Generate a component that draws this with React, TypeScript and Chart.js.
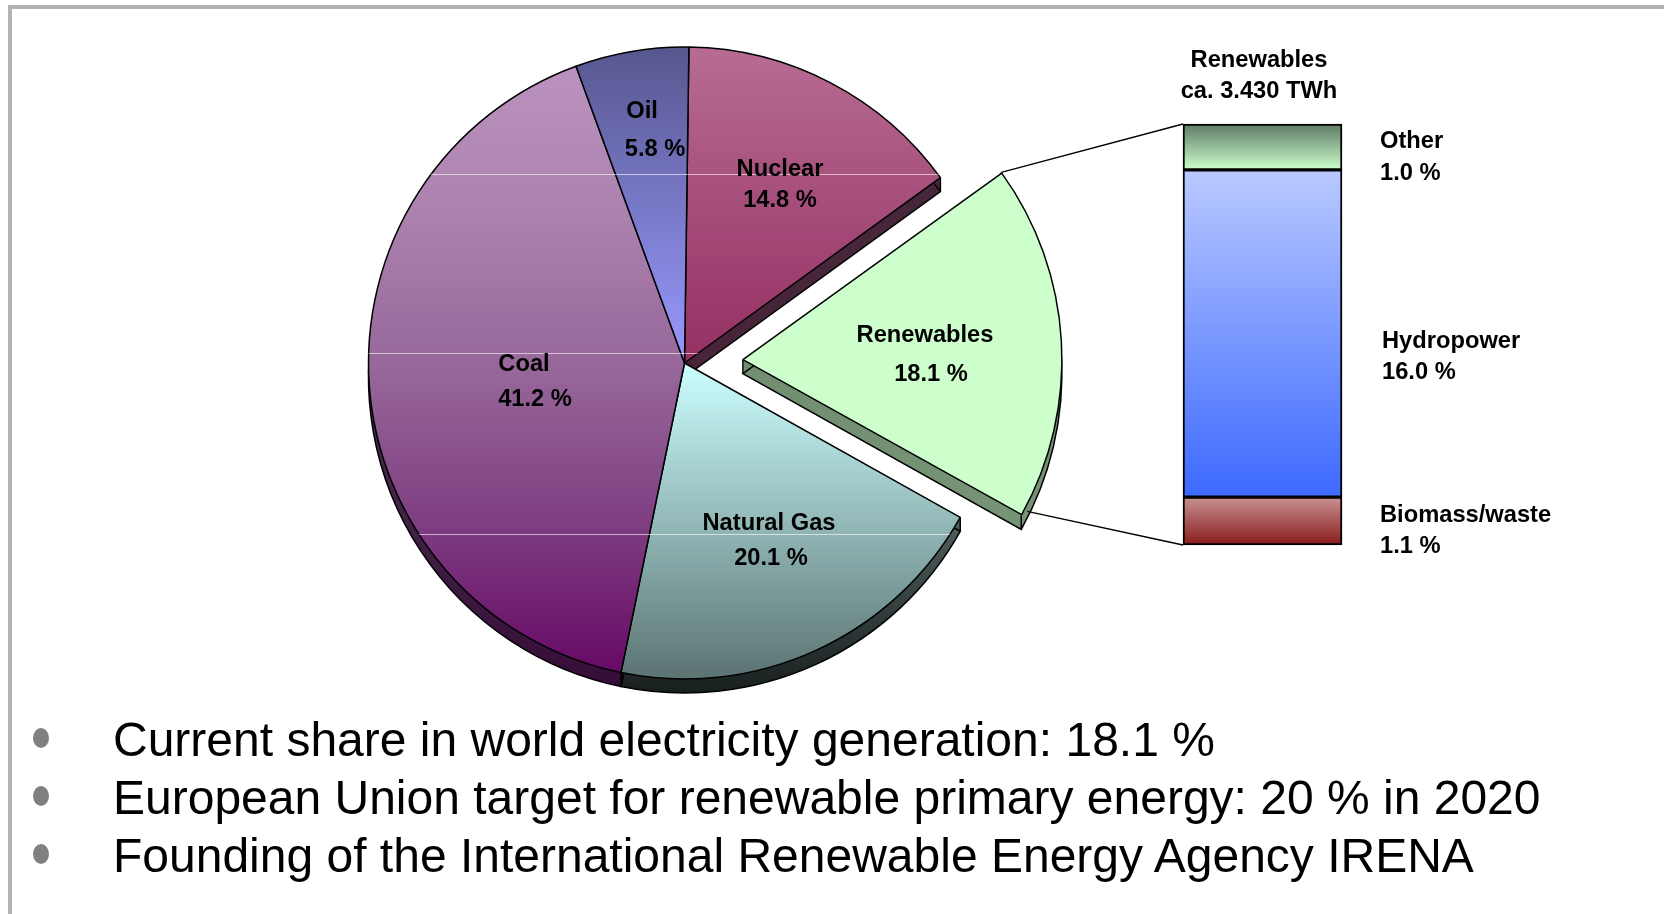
import React, { useEffect, useRef } from "react";
import { Chart, registerables } from "chart.js";

Chart.register(...registerables);

const FONT = '"Liberation Sans", Arial, sans-serif';

// Pie, clockwise from the top
const sources = ["Nuclear", "Renewables", "Natural Gas", "Coal", "Oil"];
const shares = [14.8, 18.1, 20.1, 41.2, 5.8];

// Stacked column, bottom to top. Heights are as drawn in the picture (not to scale with the shares).
const renewableKinds = ["Biomass/waste", "Hydropower", "Other"];
const renewableShares = [1.1, 16.0, 1.0];
const drawnHeights = [2.34, 16.0, 2.24];

const bullets = [
  "Current share in world electricity generation: 18.1 %",
  "European Union target for renewable primary energy: 20 % in 2020",
  "Founding of the International Renewable Energy Agency IRENA",
];

const columnTitle = ["Renewables", "ca. 3.430 TWh"];

const CX = 684.5;
const CY = 363;
const R = 316;
const DEPTH = 14;
const TILT_LINES = [174, 353, 534];

const topStops: Record<string, [number, number, string[]]> = {
  Nuclear: [-1, 0, ["#b76c93", "#952f62"]],
  Renewables: [-1, 1, ["#ccffcc", "#ccffcc"]],
  "Natural Gas": [0, 0.98, ["#ccffff", "#5d7675"]],
  Coal: [-0.95, 0.98, ["#bc92bf", "#ab81ae", "#97679a", "#7f3f82", "#660966"]],
  Oil: [-1, 0, ["#57578f", "#9999ff"]],
};
const sideStops: Record<string, [string, string]> = {
  Nuclear: ["#45293a", "#4a1f37"],
  Renewables: ["#668266", "#7c9a7c"],
  "Natural Gas": ["#7d9997", "#191f1f"],
  Coal: ["#4a3550", "#360c38"],
  Oil: ["#3c3c60", "#50508a"],
};
const columnStops: [string, string][] = [
  ["#c99292", "#891b1b"],
  ["#b9c9ff", "#3d69ff"],
  ["#5f7a65", "#ccffcc"],
];

const labelSpots: Record<string, number[]> = {
  Nuclear: [780, 169, 780, 200],
  Renewables: [925, 335, 931, 374],
  "Natural Gas": [769, 523, 771, 558],
  Coal: [524, 364, 535, 399],
  Oil: [642, 111, 655, 149],
};
const sideSpots = [
  [1380, 515, 1380, 546],
  [1382, 341, 1382, 372],
  [1380, 141, 1380, 173],
];

function sector(ctx: CanvasRenderingContext2D, arc: any, dy: number) {
  const off = (arc.options.offset || 0) / 4;
  const circ = arc.circumference;
  const mid = (arc.startAngle + arc.endAngle) / 2;
  const fix = 1 - Math.sin(Math.min(Math.PI, circ));
  const r = arc.outerRadius + off * fix;
  const x = arc.x + Math.cos(mid) * off;
  const y = arc.y + Math.sin(mid) * off + dy;
  ctx.beginPath();
  ctx.moveTo(x, y);
  ctx.arc(x, y, r, arc.startAngle, arc.endAngle);
  ctx.closePath();
  return { x, y, r };
}

export default function App() {
  const pieRef = useRef<HTMLCanvasElement>(null);
  const barRef = useRef<HTMLCanvasElement>(null);

  useEffect(() => {
    const barChart = new Chart(barRef.current!, {
      type: "bar",
      data: {
        labels: ["Renewables"],
        datasets: renewableKinds.map((k, i) => ({
          label: k,
          data: [drawnHeights[i]],
          stack: "s",
          barPercentage: 1,
          categoryPercentage: 1,
          clip: false,
          borderColor: "#000",
          borderWidth: 2,
          borderSkipped: false,
          backgroundColor: (c: any) => {
            const y = c.chart.scales.y;
            if (!y || !c.chart.chartArea) return columnStops[i][0];
            const base = drawnHeights.slice(0, i).reduce((a, b) => a + b, 0);
            const y0 = y.getPixelForValue(base + drawnHeights[i]);
            const y1 = y.getPixelForValue(base);
            if (!Number.isFinite(y0) || !Number.isFinite(y1)) return columnStops[i][0];
            const g = c.chart.ctx.createLinearGradient(0, y0, 0, y1);
            g.addColorStop(0, columnStops[i][0]);
            g.addColorStop(1, columnStops[i][1]);
            return g;
          },
        })) as any,
      },
      options: {
        responsive: false,
        animation: false,
        events: [],
        layout: { padding: 4 },
        plugins: { legend: { display: false }, tooltip: { enabled: false } },
        scales: {
          x: { display: false, stacked: true },
          y: {
            display: false,
            stacked: true,
            min: 0,
            max: drawnHeights.reduce((a, b) => a + b, 0),
          },
        },
      },
    });

    const depthPlugin = {
      id: "depth",
      beforeDatasetsDraw(chart: any) {
        const ctx = chart.ctx;
        const arcs = chart.getDatasetMeta(0).data;
        // the exploded slice keeps a slightly larger radius than the rest, as in the picture
        const ex = arcs[sources.indexOf("Renewables")];
        const exOff = (ex.options.offset || 0) / 4;
        ex.outerRadius = R + 3 - exOff * (1 - Math.sin(Math.min(Math.PI, ex.circumference)));

        arcs.forEach((arc: any, i: number) => {
          const [a, b] = sideStops[sources[i]];
          const g = ctx.createLinearGradient(0, arc.y - R, 0, arc.y + R + DEPTH);
          const isGas = sources[i] === "Natural Gas";
          const isCoal = sources[i] === "Coal";
          g.addColorStop(0, a);
          g.addColorStop(isGas || isCoal ? 0.5 : 0, a);
          g.addColorStop(1, b);
          ctx.save();
          ctx.fillStyle = g;
          for (let dy = DEPTH; dy >= 1; dy--) {
            sector(ctx, arc, dy);
            ctx.fill();
          }
          ctx.strokeStyle = "#000";
          ctx.lineWidth = 1.5;
          const p = sector(ctx, arc, DEPTH);
          ctx.stroke();
          // vertical edges at the corners of the slice
          [arc.startAngle, arc.endAngle].forEach((t: number) => {
            const ex2 = p.x + Math.cos(t) * p.r;
            const ey = p.y + Math.sin(t) * p.r;
            ctx.beginPath();
            ctx.moveTo(ex2, ey - DEPTH);
            ctx.lineTo(ex2, ey);
            ctx.stroke();
          });
          ctx.beginPath();
          ctx.moveTo(p.x, p.y - DEPTH);
          ctx.lineTo(p.x, p.y);
          ctx.stroke();
          ctx.restore();
        });
      },
      afterDatasetsDraw(chart: any) {
        const ctx = chart.ctx;
        const arcs = chart.getDatasetMeta(0).data;
        // thin white seams
        arcs.forEach((arc: any, i: number) => {
          if (sources[i] === "Renewables") return;
          ctx.save();
          sector(ctx, arc, 0);
          ctx.clip();
          ctx.strokeStyle = "rgba(255,255,255,0.6)";
          ctx.lineWidth = 1;
          TILT_LINES.forEach((ly) => {
            ctx.beginPath();
            ctx.moveTo(0, ly + 0.5);
            ctx.lineTo(1664, ly + 0.5);
            ctx.stroke();
          });
          ctx.restore();
        });

        // connectors to the column
        const ri = sources.indexOf("Renewables");
        const arc = arcs[ri];
        const p = sector(ctx, arc, 0);
        const bar = barChart.getDatasetMeta(0).data[0] as any;
        const yS: any = barChart.scales.y;
        const barRect = barRef.current!.getBoundingClientRect();
        const left = barRect.left + bar.x - bar.width / 2;
        const top = barRect.top + yS.getPixelForValue(yS.max);
        const bottom = barRect.top + yS.getPixelForValue(0);
        ctx.save();
        ctx.strokeStyle = "#000";
        ctx.lineWidth = 1.3;
        ctx.beginPath();
        ctx.moveTo(p.x + Math.cos(arc.startAngle) * p.r, p.y + Math.sin(arc.startAngle) * p.r);
        ctx.lineTo(left, top);
        ctx.moveTo(p.x + Math.cos(arc.endAngle) * p.r + 6, p.y + Math.sin(arc.endAngle) * p.r - 4);
        ctx.lineTo(left, bottom);
        ctx.stroke();

        // labels
        ctx.fillStyle = "#000";
        ctx.font = `bold 23.7px ${FONT}`;
        ctx.textAlign = "center";
        ctx.textBaseline = "middle";
        sources.forEach((s, i) => {
          const q = labelSpots[s];
          ctx.fillText(s, q[0], q[1]);
          ctx.fillText(`${shares[i].toFixed(1)} %`, q[2], q[3]);
        });
        ctx.fillText(columnTitle[0], 1259, 60);
        ctx.fillText(columnTitle[1], 1259, 91);
        ctx.textAlign = "left";
        renewableKinds.forEach((k, i) => {
          const q = sideSpots[i];
          ctx.fillText(k, q[0], q[1]);
          ctx.fillText(`${renewableShares[i].toFixed(1)} %`, q[2], q[3]);
        });
        ctx.restore();
      },
    };

    const pieChart = new Chart(pieRef.current!, {
      type: "pie",
      data: {
        labels: sources,
        datasets: [
          {
            data: shares,
            borderColor: "#000",
            borderWidth: 1.5,
            offset: sources.map((s) => (s === "Renewables" ? 234 : 0)),
            backgroundColor: (c: any) => {
              const [f0, f1, stops] = topStops[sources[c.dataIndex ?? 0]];
              const g = pieRef.current!.getContext("2d")!.createLinearGradient(0, CY + f0 * R, 0, CY + f1 * R);
              stops.forEach((col, k) => g.addColorStop(k / (stops.length - 1), col));
              return g;
            },
          } as any,
        ],
      },
      options: {
        responsive: false,
        animation: false,
        events: [],
        rotation: 0.8,
        radius: R,
        layout: {
          padding: { left: 0, right: 1664 - 2 * CX, top: 0, bottom: 914 - 2 * CY },
        },
        plugins: { legend: { display: false }, tooltip: { enabled: false } },
      } as any,
      plugins: [depthPlugin],
    });

    return () => {
      pieChart.destroy();
      barChart.destroy();
    };
  }, []);

  return (
    <div
      style={{
        position: "fixed",
        inset: 0,
        width: 1664,
        height: 914,
        background: "#fff",
        overflow: "hidden",
        fontFamily: FONT,
      }}
    >
      <div
        style={{
          position: "absolute",
          left: 8,
          top: 5,
          right: -10,
          bottom: -10,
          borderLeft: "4px solid #b3b3b3",
          borderTop: "4px solid #b3b3b3",
        }}
      />
      <canvas ref={pieRef} width={1664} height={914} style={{ position: "absolute", left: 0, top: 0 }} />
      <canvas ref={barRef} width={167} height={429} style={{ position: "absolute", left: 1179, top: 120 }} />
      {bullets.map((b, i) => (
        <React.Fragment key={b}>
          <div
            style={{
              position: "absolute",
              left: 33,
              top: 728 + i * 58,
              width: 16,
              height: 20,
              borderRadius: "50%",
              background: "#808080",
            }}
          />
          <div
            style={{
              position: "absolute",
              left: 113,
              top: 712 + i * 58,
              fontSize: 48,
              lineHeight: "56px",
              whiteSpace: "nowrap",
              color: "#000",
            }}
          >
            {b}
          </div>
        </React.Fragment>
      ))}
    </div>
  );
}
